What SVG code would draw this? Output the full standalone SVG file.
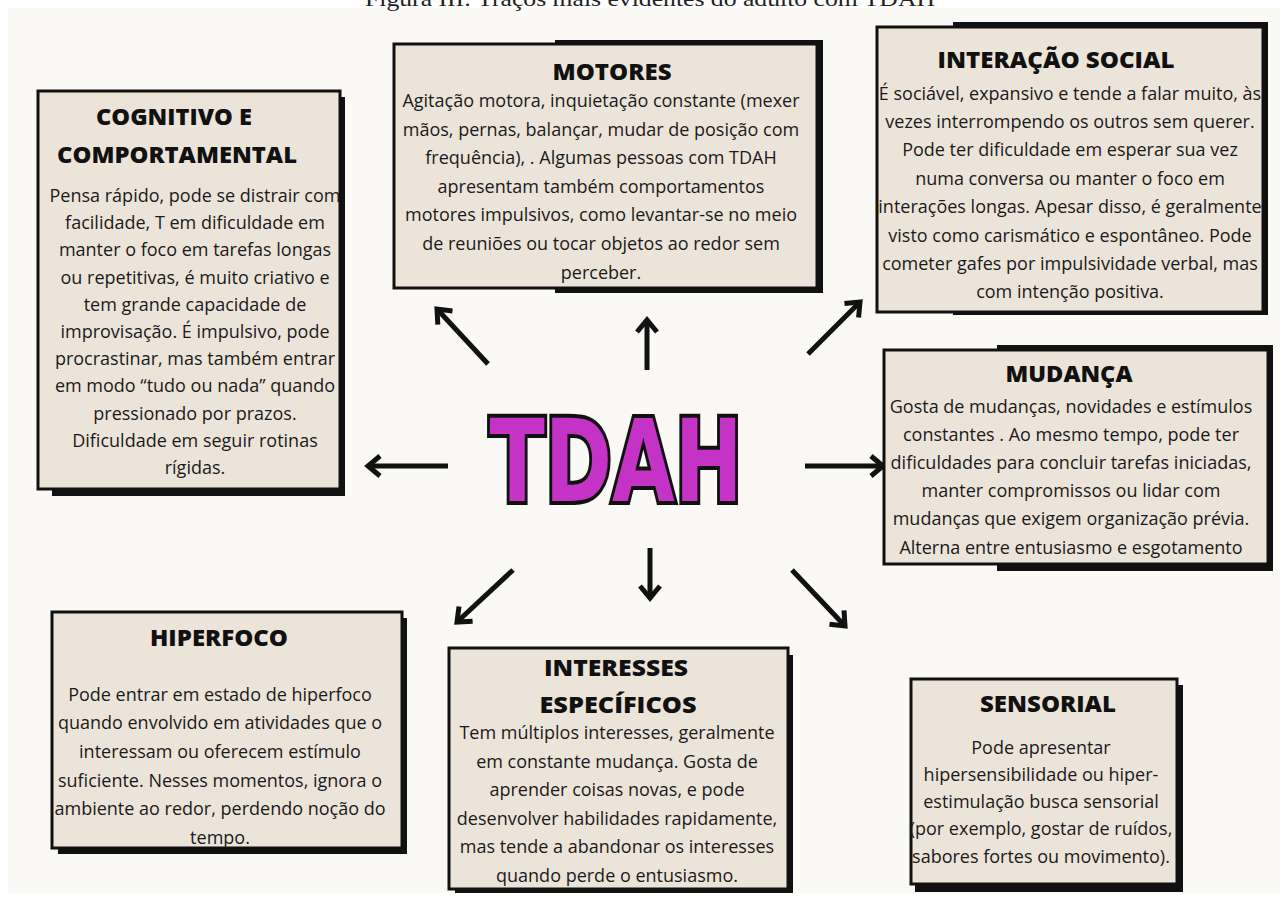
<svg xmlns="http://www.w3.org/2000/svg" width="1286" height="911" viewBox="0 0 1286 911">
<defs>
<style>
.box{fill:#ede4d9;stroke:#111;stroke-width:3}
.sh{fill:#111}
.t{font-family:"Open Sans","Liberation Sans",sans-serif;font-weight:800;font-size:23px;fill:#111;text-anchor:middle}
.b{font-family:"Open Sans","Liberation Sans",sans-serif;font-size:18px;fill:#1a1a1a;text-anchor:middle}
.c{stroke:#111;stroke-width:5;fill:none}
.cap{font-family:"Liberation Serif",serif;font-size:22px;fill:#222}
</style>
<marker id="ah" viewBox="-16 -13 22 26" refX="0" refY="0" markerWidth="22" markerHeight="26" markerUnits="userSpaceOnUse" orient="auto" overflow="visible">
<path d="M-12,-10 L0,0 L-12,10" fill="none" stroke="#111" stroke-width="5"/>
</marker>
</defs>
<rect x="0" y="0" width="1286" height="911" fill="#ffffff"/>
<rect x="8" y="8" width="1272" height="885" fill="#faf9f5"/>
<text class="cap" x="365" y="6" textLength="570" lengthAdjust="spacingAndGlyphs">Figura III: Traços mais evidentes do adulto com TDAH</text>

<g id="connectors">
<line class="c" x1="488" y1="364" x2="437" y2="309" marker-end="url(#ah)"/>
<line class="c" x1="647" y1="370" x2="647" y2="320" marker-end="url(#ah)"/>
<line class="c" x1="808" y1="354" x2="860" y2="302" marker-end="url(#ah)"/>
<line class="c" x1="448" y1="466" x2="368" y2="466" marker-end="url(#ah)"/>
<line class="c" x1="805" y1="466" x2="883" y2="466" marker-end="url(#ah)"/>
<line class="c" x1="513" y1="570" x2="457" y2="622" marker-end="url(#ah)"/>
<line class="c" x1="650" y1="548" x2="650" y2="598" marker-end="url(#ah)"/>
<line class="c" x1="792" y1="570" x2="845" y2="626" marker-end="url(#ah)"/>
</g>

<g id="tdah">
<text x="616" y="501" font-family="'DejaVu Sans','Liberation Sans',sans-serif" font-weight="bold" font-size="114" fill="#c533c6" stroke="#111" stroke-width="8" paint-order="stroke" stroke-linejoin="miter" text-anchor="middle" textLength="253" lengthAdjust="spacingAndGlyphs">TDAH</text>
</g>

<g id="cognitivo">
<rect class="sh" x="52" y="97" width="293" height="399"/>
<rect class="box" x="38" y="91" width="302" height="398"/>
<text class="t" x="174" y="125" textLength="156" lengthAdjust="spacingAndGlyphs">COGNITIVO E</text>
<text class="t" x="177" y="163" textLength="240" lengthAdjust="spacingAndGlyphs">COMPORTAMENTAL</text>
<text class="b" x="195" y="202">Pensa rápido, pode se distrair com</text>
<text class="b" x="195" y="229.2">facilidade, T em dificuldade em</text>
<text class="b" x="195" y="256.4">manter o foco em tarefas longas</text>
<text class="b" x="195" y="283.6">ou repetitivas, é muito criativo e</text>
<text class="b" x="195" y="310.8">tem grande capacidade de</text>
<text class="b" x="195" y="338">improvisação. É impulsivo, pode</text>
<text class="b" x="195" y="365.2">procrastinar, mas também entrar</text>
<text class="b" x="195" y="392.4">em modo “tudo ou nada” quando</text>
<text class="b" x="195" y="419.6">pressionado por prazos.</text>
<text class="b" x="195" y="446.8">Dificuldade em seguir rotinas</text>
<text class="b" x="195" y="474">rígidas.</text>
</g>

<g id="motores">
<rect class="sh" x="555" y="40" width="268" height="253"/>
<rect class="box" x="394" y="44" width="423" height="244"/>
<text class="t" x="612" y="80" textLength="119" lengthAdjust="spacingAndGlyphs">MOTORES</text>
<text class="b" x="601" y="107">Agitação motora, inquietação constante (mexer</text>
<text class="b" x="601" y="135.6">mãos, pernas, balançar, mudar de posição com</text>
<text class="b" x="601" y="164.2">frequência), . Algumas pessoas com TDAH</text>
<text class="b" x="601" y="192.8">apresentam também comportamentos</text>
<text class="b" x="601" y="221.4">motores impulsivos, como levantar-se no meio</text>
<text class="b" x="601" y="250">de reuniões ou tocar objetos ao redor sem</text>
<text class="b" x="601" y="278.6">perceber.</text>
</g>

<g id="interacao-social">
<rect class="sh" x="953" y="22" width="315" height="293"/>
<rect class="box" x="877" y="27" width="386" height="285"/>
<text class="t" x="1056" y="68" textLength="237" lengthAdjust="spacingAndGlyphs">INTERAÇÃO SOCIAL</text>
<text class="b" x="1070" y="99.5">É sociável, expansivo e tende a falar muito, às</text>
<text class="b" x="1070" y="127.9">vezes interrompendo os outros sem querer.</text>
<text class="b" x="1070" y="156.3">Pode ter dificuldade em esperar sua vez</text>
<text class="b" x="1070" y="184.7">numa conversa ou manter o foco em</text>
<text class="b" x="1070" y="213.1">interações longas. Apesar disso, é geralmente</text>
<text class="b" x="1070" y="241.5">visto como carismático e espontâneo. Pode</text>
<text class="b" x="1070" y="269.9">cometer gafes por impulsividade verbal, mas</text>
<text class="b" x="1070" y="298.3">com intenção positiva.</text>
</g>

<g id="mudanca">
<rect class="sh" x="997" y="345" width="276" height="226"/>
<rect class="box" x="884" y="350" width="384" height="214"/>
<text class="t" x="1069" y="382" textLength="127" lengthAdjust="spacingAndGlyphs">MUDANÇA</text>
<text class="b" x="1071" y="412.5">Gosta de mudanças, novidades e estímulos</text>
<text class="b" x="1071" y="440.7">constantes . Ao mesmo tempo, pode ter</text>
<text class="b" x="1071" y="468.9">dificuldades para concluir tarefas iniciadas,</text>
<text class="b" x="1071" y="497.1">manter compromissos ou lidar com</text>
<text class="b" x="1071" y="525.3">mudanças que exigem organização prévia.</text>
<text class="b" x="1071" y="553.5">Alterna entre entusiasmo e esgotamento</text>
</g>

<g id="hiperfoco">
<rect class="sh" x="58" y="618" width="349" height="236"/>
<rect class="box" x="52" y="612" width="350" height="236"/>
<text class="t" x="219" y="646" textLength="138" lengthAdjust="spacingAndGlyphs">HIPERFOCO</text>
<text class="b" x="220" y="700.5">Pode entrar em estado de hiperfoco</text>
<text class="b" x="220" y="729.2">quando envolvido em atividades que o</text>
<text class="b" x="220" y="757.9">interessam ou oferecem estímulo</text>
<text class="b" x="220" y="786.6">suficiente. Nesses momentos, ignora o</text>
<text class="b" x="220" y="815.3">ambiente ao redor, perdendo noção do</text>
<text class="b" x="220" y="844">tempo.</text>
</g>

<g id="interesses-especificos">
<rect class="sh" x="455" y="655" width="338" height="238"/>
<rect class="box" x="449" y="648" width="339" height="241"/>
<text class="t" x="616" y="676" textLength="144" lengthAdjust="spacingAndGlyphs">INTERESSES</text>
<text class="t" x="618" y="713" textLength="157" lengthAdjust="spacingAndGlyphs">ESPECÍFICOS</text>
<text class="b" x="617" y="739">Tem múltiplos interesses, geralmente</text>
<text class="b" x="617" y="767.5">em constante mudança. Gosta de</text>
<text class="b" x="617" y="796">aprender coisas novas, e pode</text>
<text class="b" x="617" y="824.5">desenvolver habilidades rapidamente,</text>
<text class="b" x="617" y="853">mas tende a abandonar os interesses</text>
<text class="b" x="617" y="881.5">quando perde o entusiasmo.</text>
</g>

<g id="sensorial">
<rect class="sh" x="915" y="685" width="268" height="207"/>
<rect class="box" x="911" y="679" width="266" height="205"/>
<text class="t" x="1048" y="712" textLength="136" lengthAdjust="spacingAndGlyphs">SENSORIAL</text>
<text class="b" x="1041" y="753.5">Pode apresentar</text>
<text class="b" x="1041" y="780.8">hipersensibilidade ou hiper-</text>
<text class="b" x="1041" y="808.1">estimulação busca sensorial</text>
<text class="b" x="1041" y="835.4">(por exemplo, gostar de ruídos,</text>
<text class="b" x="1041" y="862.7">sabores fortes ou movimento).</text>
</g>
</svg>
